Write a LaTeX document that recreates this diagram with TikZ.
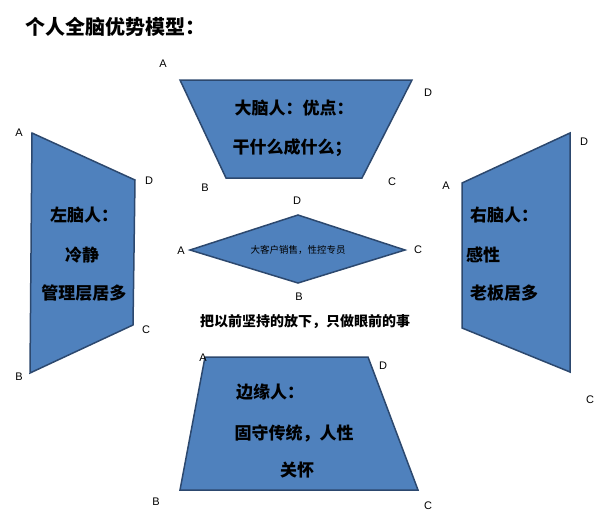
\documentclass[tikz,border=0pt]{standalone}
\usepackage{fontspec}
\setmainfont{Liberation Sans}
\newfontfamily\cjk{Noto Sans CJK SC}
\begin{document}
\begin{tikzpicture}[x=1pt,y=-1pt,
  shp/.style={fill={rgb,255:red,79;green,129;blue,189},draw={rgb,255:red,44;green,72;blue,110},line width=1.5pt,line join=miter},
  lbl/.style={font=\fontsize{11}{12}\selectfont,inner sep=0pt},
  txt/.style={font=\cjk\bfseries\fontsize{17}{18}\selectfont,inner sep=0pt}]
\useasboundingbox (0,0) rectangle (600,517);
\node[anchor=west,font=\cjk\bfseries\fontsize{20}{21}\selectfont,inner sep=0pt] (title) at (25,27) {个人全脑优势模型：};
% top
\draw[shp] (180,80) -- (412,80) -- (362,178) -- (226,178) -- cycle;
\node[txt] (t1) at (294,108) {大脑人：优点：};
\node[txt] (t2) at (292,148) {干什么成什么；};
\node[lbl] (ta) at (163,64) {A}; \node[lbl] (td) at (428,93) {D};
\node[lbl] (tb) at (205,188) {B}; \node[lbl] (tc) at (392,182) {C};
% left
\draw[shp] (32,133) -- (135,180) -- (133,325) -- (30,373) -- cycle;
\node[txt] (l1) at (84,215) {左脑人：};
\node[txt] (l2) at (82,255) {冷静};
\node[txt] (l3) at (84,293) {管理层居多};
\node[lbl] (la) at (19,133) {A}; \node[lbl] (ld) at (149,181) {D};
\node[lbl] (lc) at (146,330) {C}; \node[lbl] (lb) at (19,377) {B};
% right
\draw[shp] (462,183) -- (570,133) -- (570,372) -- (462,328) -- cycle;
\node[txt] (r1) at (504,215) {右脑人：};
\node[txt] (r2) at (483,255) {感性};
\node[txt] (r3) at (504,293) {老板居多};
\node[lbl] (ra) at (446,186) {A}; \node[lbl] (rd) at (584,142) {D};
\node[lbl] (rc) at (590,400) {C};
% bottom
\draw[shp] (205,357) -- (368,357) -- (418,490) -- (180,490) -- cycle;
\node[txt] (b1) at (270,392) {边缘人：};
\node[txt] (b2) at (294,433) {固守传统，人性};
\node[txt] (b3) at (297,470) {关怀};
\node[lbl] (ba) at (203,358) {A}; \node[lbl] (bd) at (383,366) {D};
\node[lbl] (bb) at (156,502) {B}; \node[lbl] (bc) at (428,506) {C};
% diamond
\draw[shp] (190,250) -- (298,215) -- (405,250) -- (298,283) -- cycle;
\node[font=\cjk\fontsize{9.5}{10}\selectfont,inner sep=0pt] (d0) at (298,250) {大客户销售，性控专员};
\node[lbl] (da) at (181,251) {A}; \node[lbl] (dd) at (297,201) {D};
\node[lbl] (dc) at (418,250) {C}; \node[lbl] (db) at (299,297) {B};
\node[txt,font=\cjk\bfseries\fontsize{14}{15}\selectfont] (mid) at (305,322) {把以前坚持的放下，只做眼前的事};
\end{tikzpicture}
\end{document}
